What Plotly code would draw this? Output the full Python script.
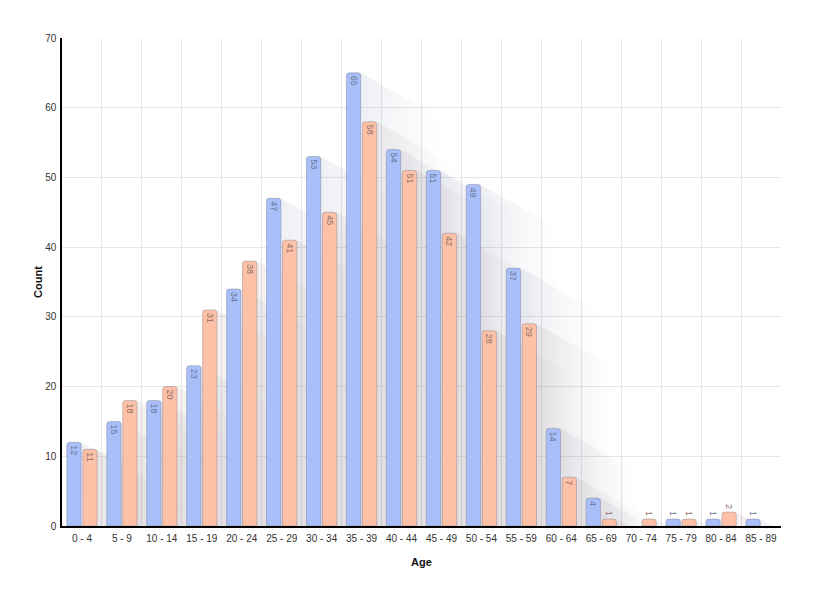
import plotly.graph_objects as go

# ---- data ----
categories = ["0 - 4", "5 - 9", "10 - 14", "15 - 19", "20 - 24", "25 - 29", "30 - 34",
              "35 - 39", "40 - 44", "45 - 49", "50 - 54", "55 - 59", "60 - 64",
              "65 - 69", "70 - 74", "75 - 79", "80 - 84", "85 - 89"]
series_blue = [12, 15, 18, 23, 34, 47, 53, 65, 54, 51, 49, 37, 14, 4, None, 1, 1, 1]
series_orange = [11, 18, 20, 31, 38, 41, 45, 58, 51, 42, 28, 29, 7, 1, 1, 1, 2, None]
y_ticks = [0, 10, 20, 30, 40, 50, 60, 70]

# ---- layout constants (page body has an 8px margin) ----
W, H = 819, 585
ML, MR, MT, MB = 54, 46, 30, 67
YMAX = 70
n = len(categories)
px_per_cat = (W - ML - MR) / n
px_per_unit = (H - MT - MB) / YMAX

BARGAP, GROUPGAP = 0.2, 0.1
slot = (1 - BARGAP) / 2
bw = slot * (1 - GROUPGAP)

SH_LEN_PX = 80       # horizontal length of shadow
SH_SLOPE = 0.57      # dy/dx in pixels
A = SH_LEN_PX / px_per_cat
B = SH_LEN_PX * SH_SLOPE / px_per_unit

fig = go.Figure()

def add_shadows(values, offset, rgb, alpha):
    for i, v in enumerate(values):
        if v is None:
            continue
        c = i + offset
        x0, x1 = c - bw / 2, c + bw / 2
        xs = [x0, x1, x1 + A, x1 + A, x0, x0]
        ys = [v, v, v - B, -YMAX, -YMAX, v]
        fig.add_trace(go.Scatter(
            x=xs, y=ys, mode="lines", line=dict(width=0), fill="toself",
            fillgradient=dict(type="horizontal", start=x1, stop=x1 + A,
                              colorscale=[[0, f"rgba({rgb},{alpha})"],
                                          [1, f"rgba({rgb},0)"]]),
            hoverinfo="skip", showlegend=False, xaxis="x", yaxis="y"))

add_shadows(series_blue, -slot / 2, "70,80,130", 0.085)
add_shadows(series_orange, slot / 2, "110,80,70", 0.08)

def add_bars(values, name, fill, textcolor):
    fig.add_trace(go.Bar(
        x=list(range(n)), y=values, name=name,
        marker=dict(color=fill, line=dict(color="rgba(90,90,110,0.30)", width=1),
                    cornerradius=3),
        text=["" if v is None else str(v) for v in values],
        textposition=["outside" if (v is not None and v < 3) else "inside" for v in values],
        insidetextanchor="end", textangle=90, constraintext="none",
        textfont=dict(size=9, color=textcolor, family="Liberation Sans, Arial"),
        cliponaxis=False, hoverinfo="skip", showlegend=False,
        xaxis="x2", yaxis="y2"))

add_bars(series_blue, "Male", "#a9bffa", "#6b7590")
add_bars(series_orange, "Female", "#fdc1a8", "#8d6e62")

font_family = "Liberation Sans, Arial, Helvetica, sans-serif"
fig.update_layout(
    width=W, height=H,
    margin=dict(l=ML, r=MR, t=MT, b=MB, autoexpand=False),
    paper_bgcolor="white", plot_bgcolor="white",
    font=dict(family=font_family, size=10, color="#333333"),
    barmode="group", bargap=BARGAP, bargroupgap=GROUPGAP,
    showlegend=False,
    xaxis=dict(range=[-0.5, n - 0.5], tickmode="array",
               tickvals=[k - 0.5 for k in range(n + 1)],
               showticklabels=False, showgrid=True, gridcolor="#e6e6e6",
               gridwidth=1, zeroline=False, showline=False, fixedrange=True),
    yaxis=dict(range=[0, YMAX], tickmode="array", tickvals=y_ticks,
               showgrid=True, gridcolor="#e6e6e6", zeroline=False,
               showline=True, linecolor="#000000", linewidth=1.5,
               ticks="", ticklabelstandoff=2,
               tickfont=dict(size=10, color="#333333"),
               title=dict(text="Count", standoff=0,
                          font=dict(size=11, color="#111111", weight="bold"))),
    xaxis2=dict(overlaying="x", anchor="y2", range=[-0.5, n - 0.5],
                tickmode="array", tickvals=list(range(n)), ticktext=categories,
                showgrid=False, zeroline=False, showline=True,
                linecolor="#000000", linewidth=1.5, ticks="",
                ticklabelstandoff=2,
                tickfont=dict(size=10, color="#333333"),
                title=dict(text="Age", standoff=16,
                           font=dict(size=11, color="#111111", weight="bold"))),
    yaxis2=dict(overlaying="y", anchor="x2", range=[0, YMAX], visible=False),
)

fig.write_html("out.html")
